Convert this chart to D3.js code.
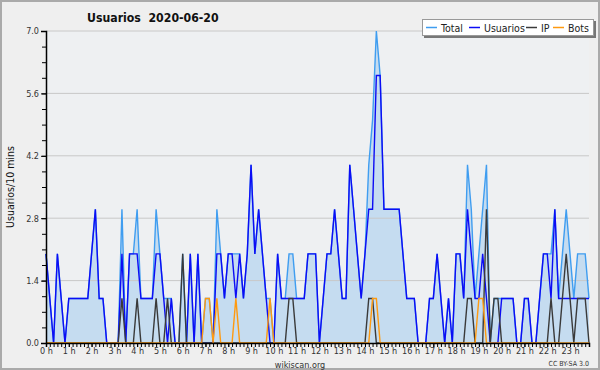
<!DOCTYPE html>
<html>
<head>
<meta charset="utf-8">
<script src="https://cdn.jsdelivr.net/npm/d3@7"></script>
<style>
  body { margin: 0; background: #f0f0f0; }
  text { font-family: "DejaVu Sans Condensed", "DejaVu Sans", sans-serif; font-stretch: condensed; }
</style>
</head>
<body>
<div class="chart"></div>
<script>
var svgWidth = 600;
var svgHeight = 370;

var margin = { top: 31, right: 11, bottom: 27, left: 46 };
var width = svgWidth - margin.left - margin.right;
var height = svgHeight - margin.top - margin.bottom;

// one value per 10 minutes, 144 slots
var hourLabels = d3.range(24).map(h => h + " h");
var yTicks = [0, 1.4, 2.8, 4.2, 5.6, 7.0];

var total = [
  2,1,0,2,1,0,1,1,1,1, 1,1,2,3,1,1,0,0,0,0,
  3,0,2,2,3,1,1,1,1,3, 2,1,1,1,0,0,2,0,2,0,
  2,0,1,1,0,3,2,1,2,2, 2,2,1,2,4,2,3,2,1,1,
  0,2,1,1,2,2,1,1,1,2, 2,2,0,1,2,2,3,2,1,1,
  4,3,2,1,2,4,5,7,6,3, 3,3,3,3,2,1,1,1,0,0,
  0,1,1,2,1,0,1,0,2,2, 1,4,3,1,2,3,4,0,1,1,
  1,1,1,1,0,0,1,1,0,0, 1,2,2,2,3,1,2,3,2,1,
  2,2,2,1
];
var usuarios = [
  2,1,0,2,1,0,1,1,1,1, 1,1,2,3,1,1,0,0,0,0,
  2,0,2,2,2,1,1,1,1,2, 2,1,0,1,0,0,0,0,2,0,
  2,0,0,0,0,2,2,1,2,2, 1,2,1,2,4,2,3,2,1,0,
  0,2,1,1,1,1,1,1,1,2, 2,2,0,1,2,2,3,2,1,1,
  4,3,2,1,2,3,3,6,6,3, 3,3,3,3,2,1,1,1,0,0,
  0,1,1,2,1,0,1,0,2,2, 1,3,2,1,1,2,1,0,0,0,
  1,1,1,1,0,0,1,1,0,0, 1,2,2,1,3,1,1,1,1,1,
  1,1,1,1
];
var ip = [
  0,0,0,0,0,0,0,0,0,0, 0,0,0,0,0,0,0,0,0,0,
  1,0,0,0,1,0,0,0,0,1, 0,0,1,0,0,0,2,0,0,0,
  0,0,0,0,0,0,0,0,0,0, 0,0,0,0,0,0,0,0,0,0,
  0,0,0,0,1,1,0,0,0,0, 0,0,0,0,0,0,0,0,0,0,
  0,0,0,0,0,1,1,0,0,0, 0,0,0,0,0,0,0,0,0,0,
  0,0,0,0,0,0,0,0,0,0, 0,1,1,0,0,0,3,0,1,1,
  0,0,0,0,0,0,0,0,0,0, 0,0,0,1,0,0,1,2,1,0,
  1,1,1,0
];
var bots = [
  0,0,0,0,0,0,0,0,0,0, 0,0,0,0,0,0,0,0,0,0,
  0,0,0,0,0,0,0,0,0,0, 0,0,0,0,0,0,0,0,0,0,
  0,0,1,1,0,1,0,0,0,0, 1,0,0,0,0,0,0,0,0,1,
  0,0,0,0,0,0,0,0,0,0, 0,0,0,0,0,0,0,0,0,0,
  0,0,0,0,0,0,1,1,0,0, 0,0,0,0,0,0,0,0,0,0,
  0,0,0,0,0,0,0,0,0,0, 0,0,0,0,1,1,0,0,0,0,
  0,0,0,0,0,0,0,0,0,0, 0,0,0,0,0,0,0,0,0,0,
  0,0,0,0
];

var series = [
  { name: "Total", values: total, color: "#3f9df0" },
  { name: "Usuarios", values: usuarios, color: "#0c0cf5" },
  { name: "IP", values: ip, color: "#3a3a3a" },
  { name: "Bots", values: bots, color: "#ff9a10" }
];

var svg = d3.select(".chart")
  .append("svg")
  .attr("width", svgWidth)
  .attr("height", svgHeight);

// outer background + frame
svg.append("rect")
  .attr("x", 1).attr("y", 1)
  .attr("width", svgWidth - 2).attr("height", svgHeight - 2)
  .attr("fill", "#efefef")
  .attr("stroke", "#aaaaaa")
  .attr("stroke-width", 2);

var chartGroup = svg.append("g")
  .attr("transform", `translate(${margin.left}, ${margin.top})`);

var xScale = d3.scaleLinear().domain([0, 143]).range([0, width]);
var yScale = d3.scaleLinear().domain([0, 7]).range([height, 0]);

chartGroup.append("rect")
  .attr("width", width).attr("height", height)
  .attr("fill", "#eef0f2");

// area under total
var area = d3.area()
  .x((d, i) => xScale(i))
  .y0(height)
  .y1(d => yScale(d));

chartGroup.append("path")
  .datum(total)
  .attr("d", area)
  .attr("fill", "#c5dcf0");

// horizontal grid
chartGroup.selectAll(".grid")
  .data(yTicks.slice(1))
  .enter()
  .append("line")
  .attr("x1", 0).attr("x2", width)
  .attr("y1", d => yScale(d)).attr("y2", d => yScale(d))
  .attr("stroke", "#c8c8c8")
  .attr("stroke-width", 1);

var line = d3.line()
  .x((d, i) => xScale(i))
  .y(d => yScale(d));

series.forEach(function(s) {
  chartGroup.append("path")
    .datum(s.values)
    .attr("d", line)
    .attr("fill", "none")
    .attr("stroke", s.color)
    .attr("stroke-width", 1.4)
    .attr("stroke-linejoin", "miter");
});

// y axis: labelled ticks every 1.4, minor ticks every 0.35
var leftAxis = d3.axisLeft(yScale)
  .tickValues(yTicks)
  .tickFormat(d3.format(".1f"))
  .tickSize(5)
  .tickPadding(2);

var yAxis = chartGroup.append("g").call(leftAxis);
yAxis.select(".domain").attr("stroke", "#000").attr("stroke-width", 1.5);
yAxis.selectAll("text").attr("font-size", 9).attr("fill", "#333");

chartGroup.append("g")
  .call(d3.axisLeft(yScale).tickValues(d3.range(0, 7.01, 0.35)).tickSize(4).tickFormat(""))
  .select(".domain").remove();

// x axis: tick every 10 min, label every hour
var xAxis = chartGroup.append("g")
  .attr("transform", `translate(0, ${height})`)
  .call(d3.axisBottom(xScale).tickValues(d3.range(0, 144)).tickSize(4).tickFormat(""));
xAxis.select(".domain").attr("stroke", "#000").attr("stroke-width", 1.5);

chartGroup.append("g")
  .attr("transform", `translate(0, ${height})`)
  .call(d3.axisBottom(xScale)
    .tickValues(d3.range(0, 24).map(h => h * 6))
    .tickSize(4)
    .tickPadding(1)
    .tickFormat((d, i) => hourLabels[i]))
  .call(g => g.select(".domain").remove())
  .selectAll("text")
  .attr("font-size", 9)
  .attr("fill", "#333");

// titles
svg.append("text")
  .attr("x", 87).attr("y", 22)
  .attr("font-size", 12.2)
  .attr("font-weight", "bold")
  .attr("fill", "#111")
  .text("Usuarios\u00a0\u00a02020-06-20");

svg.append("text")
  .attr("transform", "rotate(-90)")
  .attr("x", -(margin.top + height / 2))
  .attr("y", 14)
  .attr("text-anchor", "middle")
  .attr("font-size", 10.5)
  .attr("fill", "#111")
  .text("Usuarios/10 mins");

svg.append("text")
  .attr("x", 300).attr("y", 367.5)
  .attr("text-anchor", "middle")
  .attr("font-size", 9)
  .attr("fill", "#333")
  .text("wikiscan.org");

svg.append("text")
  .attr("x", 589).attr("y", 366)
  .attr("text-anchor", "end")
  .attr("font-size", 7)
  .attr("fill", "#333")
  .text("CC BY-SA 3.0");

// legend
var legend = svg.append("g").attr("transform", "translate(422, 19)");
legend.append("rect")
  .attr("x", 2).attr("y", 2).attr("width", 172).attr("height", 17)
  .attr("fill", "#777");
legend.append("rect")
  .attr("x", 0.5).attr("y", 0.5).attr("width", 171).attr("height", 16)
  .attr("fill", "#fff")
  .attr("stroke", "#999");

var legendX = [4, 47, 104, 131];
var legendItems = legend.selectAll(".item")
  .data(series)
  .enter()
  .append("g")
  .attr("transform", (d, i) => `translate(${legendX[i]}, 0)`);

legendItems.append("line")
  .attr("x1", 0).attr("x2", 11)
  .attr("y1", 8.5).attr("y2", 8.5)
  .attr("stroke", d => d.color)
  .attr("stroke-width", 1.5);

legendItems.append("text")
  .attr("x", 15).attr("y", 12.5)
  .attr("font-size", 10.5)
  .attr("fill", "#222")
  .text(d => d.name);
</script>
</body>
</html>
